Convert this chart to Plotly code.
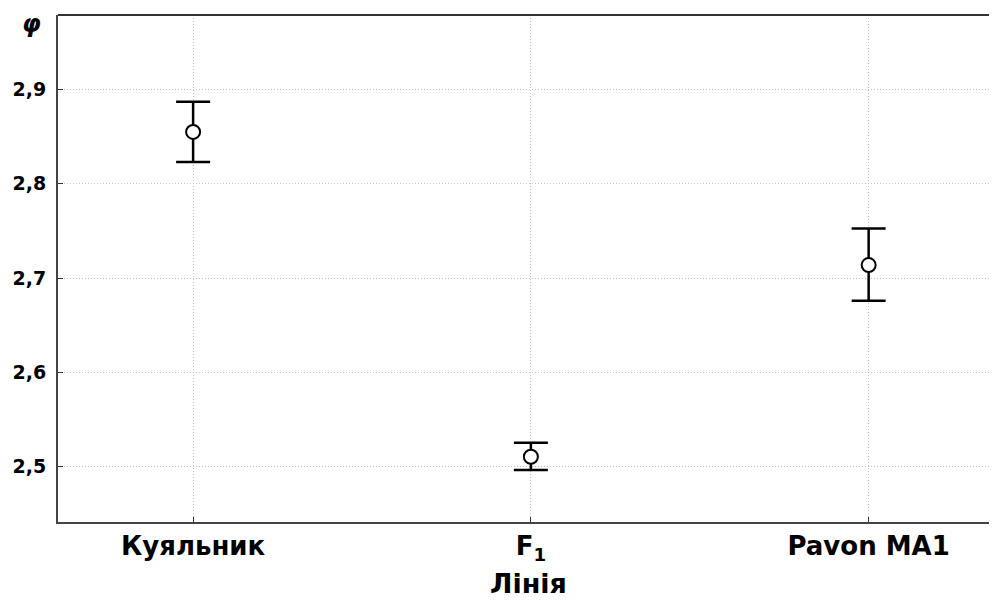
import plotly.graph_objects as go

categories = ["Куяльник", "F<sub>1</sub>", "Pavon MA1"]
means = [2.855, 2.5106, 2.7138]
upper = [2.887, 2.5254, 2.7527]
lower = [2.823, 2.4965, 2.676]
y_ticks = [2.5, 2.6, 2.7, 2.8, 2.9]
y_tick_labels = ["2,5", "2,6", "2,7", "2,8", "2,9"]
x_title = "Лінія"
y_title = "φ"

x = list(range(len(categories)))
err_plus = [u - m for u, m in zip(upper, means)]
err_minus = [m - l for m, l in zip(means, lower)]

fig = go.Figure()
fig.add_trace(go.Scatter(
    x=x, y=means, mode="markers",
    marker=dict(symbol="circle", size=14, color="white",
                line=dict(color="black", width=2)),
    error_y=dict(type="data", symmetric=False, array=err_plus,
                 arrayminus=err_minus, color="black", thickness=2.5, width=17),
    showlegend=False,
))

font_family = "DejaVu Sans, Liberation Sans, sans-serif"
fig.update_layout(
    width=989, height=593,
    margin=dict(l=50, r=0, t=7, b=79, autoexpand=False),
    paper_bgcolor="white", plot_bgcolor="white",
    font=dict(family=font_family, color="black"),
    xaxis=dict(
        range=[-0.4, 2.38],
        tickvals=x, ticktext=[f"<b>{c}</b>" for c in categories],
        tickfont=dict(size=26, family=font_family),
        ticks="inside", ticklen=5, tickwidth=1, tickcolor="#333",
        showgrid=True, gridcolor="#c4c4c4", griddash="1px,2px", gridwidth=1,
        showline=True, linecolor="#444", linewidth=2, mirror=False,
        zeroline=False, automargin=False,
    ),
    yaxis=dict(
        range=[2.4414, 2.979],
        tickvals=y_ticks, ticktext=[f"<b>{t}</b>" for t in y_tick_labels],
        tickfont=dict(size=19, family=font_family),
        ticks="inside", ticklen=5, tickwidth=1, tickcolor="#333",
        ticklabelstandoff=6,
        showgrid=True, gridcolor="#c4c4c4", griddash="1px,2px", gridwidth=1,
        showline=True, linecolor="#444", linewidth=2,
        zeroline=False, automargin=False,
    ),
    shapes=[dict(type="line", xref="paper", yref="paper", x0=0, x1=1, y0=1, y1=1,
                 line=dict(color="#333", width=2))],
    annotations=[
        dict(text=f"<b><i>{y_title}</i></b>", xref="paper", yref="paper",
             x=-0.0277, y=0.982, xanchor="center", yanchor="middle",
             showarrow=False, font=dict(size=24, family=font_family)),
        dict(text=f"<b>{x_title}</b>", xref="paper", yref="paper",
             x=0.501, y=-0.122, xanchor="center", yanchor="middle",
             showarrow=False, font=dict(size=27, family=font_family)),
    ],
)

fig.write_html("out.html")
